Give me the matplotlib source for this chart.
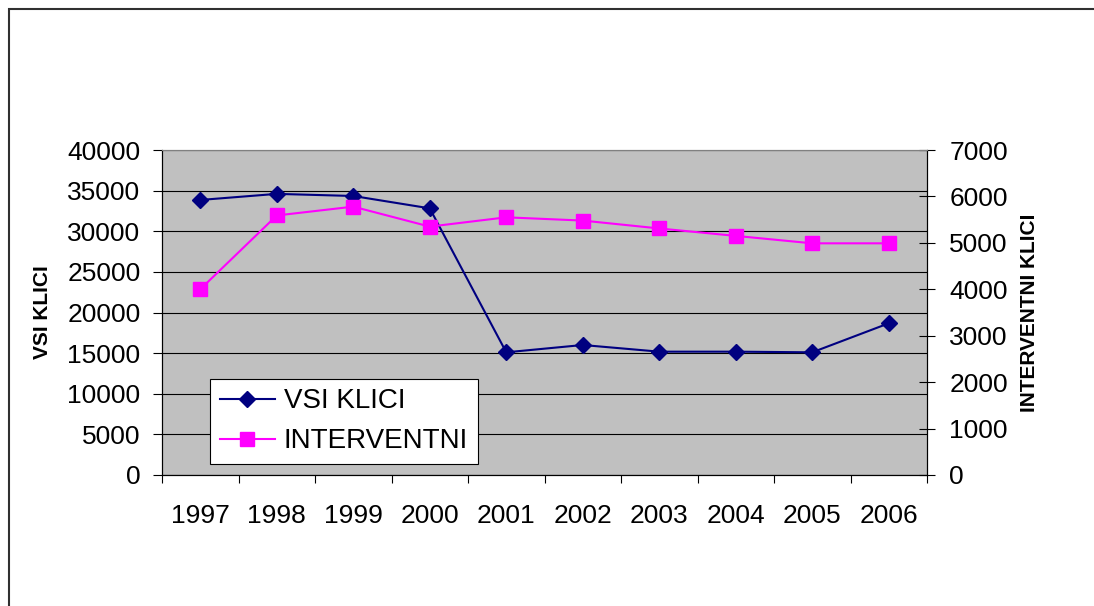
import matplotlib.pyplot as plt
from matplotlib.patches import Rectangle

plt.rcParams["font.family"] = ["Liberation Sans", "DejaVu Sans"]

years = ["1997", "1998", "1999", "2000", "2001", "2002", "2003", "2004", "2005", "2006"]
vsi_klici = [33850, 34600, 34340, 32820, 15100, 16000, 15180, 15180, 15100, 18670]
interventni = [4000, 5590, 5780, 5350, 5550, 5480, 5310, 5150, 4990, 4990]

W, H = 1094, 606
fig = plt.figure(figsize=(W / 100, H / 100), dpi=100)

# outer chart border (only left/top visible in the source)
fig.patches.append(Rectangle((9 / W, -0.1), 1.2, 1.1 - 9 / H, transform=fig.transFigure,
                             fill=False, edgecolor="#303030", linewidth=1.5))

left, right, top, bottom = 162, 927, 150, 475
ax = fig.add_axes([left / W, 1 - bottom / H, (right - left) / W, (bottom - top) / H])
ax2 = ax.twinx()

x = list(range(len(years)))
ax.set_facecolor("#C0C0C0")
ax.set_xlim(-0.5, len(years) - 0.5)
ax.set_ylim(0, 40000)
ax2.set_ylim(0, 7000)

ax.set_yticks(range(0, 40001, 5000))
ax2.set_yticks(range(0, 7001, 1000))
ax.yaxis.grid(True, color="black", linewidth=0.8)
ax.set_axisbelow(True)

l1, = ax.plot(x, vsi_klici, color="#000080", marker="D", markersize=8, linewidth=1.5,
              label="VSI KLICI", zorder=3)
l2, = ax2.plot(x, interventni, color="#FF00FF", marker="s", markersize=10.5, linewidth=1.5,
               label="INTERVENTNI", zorder=3)

ax.set_xticks(x)
ax.set_xticklabels(years)
ax.set_xticks([i - 0.5 for i in range(len(years) + 1)], minor=True)
ax.tick_params(axis="x", which="major", length=0, pad=21, labelsize=19)
ax.tick_params(axis="x", which="minor", length=6, direction="out", width=0.8)
ax.tick_params(axis="y", length=6.5, direction="out", width=0.8, pad=9, labelsize=19)
ax2.tick_params(axis="y", length=11, direction="inout", width=0.8, pad=10.5, labelsize=19)

for a in (ax, ax2):
    a.spines["top"].set_color("#808080")
    a.spines["left"].set_color("black")
    a.spines["right"].set_color("black")
    a.spines["bottom"].set_color("black")

ax.set_ylabel("VSI KLICI", fontsize=15, fontweight="bold")
ax.yaxis.set_label_coords(-0.144, 0.5)
ax2.set_ylabel("INTERVENTNI KLICI", fontsize=15, fontweight="bold")
ax2.yaxis.set_label_coords(1.1216, 0.5)

leg = ax2.legend([l1, l2], ["VSI KLICI", "INTERVENTNI"], loc="lower left",
                 bbox_to_anchor=(0.0627, 0.0338), borderaxespad=0, fontsize=20,
                 fancybox=False, framealpha=1, edgecolor="black",
                 handlelength=2.0, handletextpad=0.3, borderpad=0.35, labelspacing=0.5)
leg.get_frame().set_linewidth(0.8)

fig.savefig("out.png", dpi=100)
